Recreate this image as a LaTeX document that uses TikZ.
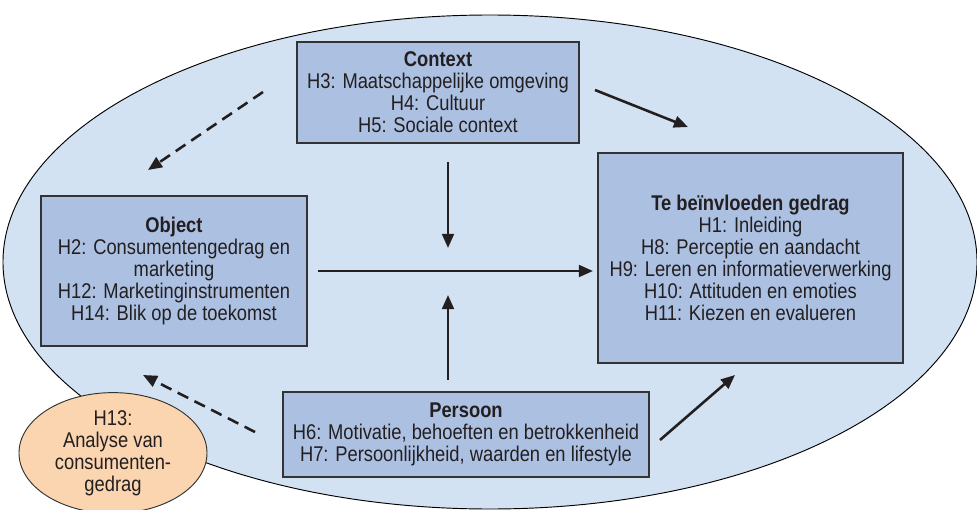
\documentclass[tikz,border=0pt]{standalone}
\usepackage{fontspec}
\setmainfont[FakeStretch=0.86]{Liberation Sans}
\usetikzlibrary{arrows.meta,shapes.geometric}
\definecolor{ovalblue}{RGB}{211,226,242}
\definecolor{boxblue}{RGB}{172,192,226}
\definecolor{peach}{RGB}{251,212,176}
\definecolor{inkgray}{RGB}{35,31,32}
\tikzset{
  chapbox/.style={draw=black!80, line width=1pt, fill=boxblue, align=center,
    inner sep=0pt, text=inkgray, font=\fontsize{18.2}{18.8}\selectfont},
  flow/.style={line width=2.2pt, draw=inkgray, -{Triangle[length=12pt,width=10pt]}},
  flowdash/.style={flow, dash pattern=on 10pt off 6pt},
}
\begin{document}
\begin{tikzpicture}[x=0.03cm,y=-0.03cm]
\useasboundingbox (0,0) rectangle (977,510);
% large oval
\draw[fill=ovalblue, line width=0.8pt] (490,262) ellipse [x radius=487, y radius=247];
% chapter boxes
\node[chapbox, minimum width=8.46cm, minimum height=3.03cm] (context) at (438,92.5)
  {\textbf{Context}\\H3: Maatschappelijke omgeving\\H4: Cultuur\\H5: Sociale context};
\node[chapbox, minimum width=7.98cm, minimum height=4.5cm] (object) at (174,271)
  {\textbf{Object}\\H2: Consumentengedrag en\\marketing\\H12: Marketinginstrumenten\\H14: Blik op de toekomst};
\node[chapbox, minimum width=9.15cm, minimum height=6.3cm] (gedrag) at (750.5,258)
  {\textbf{Te beïnvloeden gedrag}\\H1: Inleiding\\H8: Perceptie en aandacht\\H9: Leren en informatieverwerking\\H10: Attituden en emoties\\H11: Kiezen en evalueren};
\node[chapbox, minimum width=10.98cm, minimum height=2.55cm] (persoon) at (466,434.5)
  {\textbf{Persoon}\\H6: Motivatie, behoeften en betrokkenheid\\H7: Persoonlijkheid, waarden en lifestyle};
\node[ellipse, draw=black!80, line width=0.8pt, fill=peach, align=center, inner sep=0pt,
  minimum width=5.64cm, minimum height=3.36cm, text=inkgray,
  font=\fontsize{18.2}{18.8}\selectfont] (analyse) at (113,453)
  {H13:\\Analyse van\\consumenten-\\gedrag};
% arrow ends
\coordinate (ctxout) at (595,90);
\coordinate (ctxin) at (688,127);
\coordinate (objback) at (263,92);
\coordinate (objtip) at (148,170);
\coordinate (downtop) at (448,162);
\coordinate (downtip) at (448,248);
\coordinate (mainstart) at (318,271);
\coordinate (maintip) at (593,271);
\coordinate (upbottom) at (448,380);
\coordinate (uptip) at (448,295);
\coordinate (perback) at (255,432);
\coordinate (pertip) at (143,375);
\coordinate (perout) at (660,440);
\coordinate (perin) at (735,375);
% arrows
\draw[flow] (ctxout) -- (ctxin);
\draw[flowdash] (objback) -- (objtip);
\draw[flow] (downtop) -- (downtip);
\draw[flow] (mainstart) -- (maintip);
\draw[flow] (upbottom) -- (uptip);
\draw[flowdash] (perback) -- (pertip);
\draw[flow] (perout) -- (perin);
\end{tikzpicture}
\end{document}
